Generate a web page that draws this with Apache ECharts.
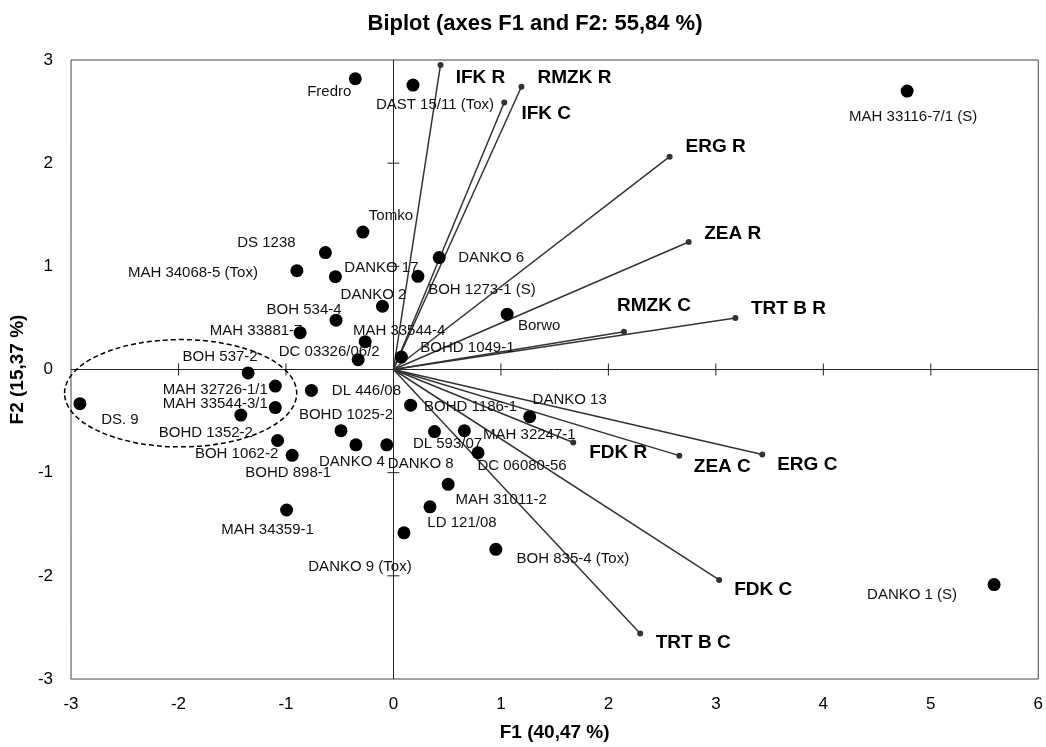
<!DOCTYPE html>
<html>
<head>
<meta charset="utf-8">
<title>Biplot</title>
<script src="https://cdn.jsdelivr.net/npm/echarts@6/dist/echarts.min.js"></script>
<style>
  html, body { margin: 0; padding: 0; background: #fff; }
  #chart { width: 1046px; height: 747px; }
</style>
</head>
<body>
<div id="chart"></div>
<script>
// observations (F1, F2)
const pointNames = [
  'Fredro', 'DAST 15/11 (Tox)', 'MAH 33116-7/1 (S)', 'Tomko', 'DS 1238',
  'MAH 34068-5 (Tox)', 'DANKO 17', 'DANKO 6', 'BOH 1273-1 (S)', 'DANKO 2',
  'BOH 534-4', 'MAH 33881-7', 'MAH 33544-4', 'DC 03326/06/2', 'BOHD 1049-1',
  'Borwo', 'BOH 537-2', 'DS. 9', 'MAH 32726-1/1', 'MAH 33544-3/1',
  'BOHD 1352-2', 'BOH 1062-2', 'BOHD 898-1', 'DL 446/08', 'BOHD 1025-2',
  'DANKO 4', 'DANKO 8', 'MAH 34359-1', 'DANKO 9 (Tox)', 'BOHD 1186-1',
  'DANKO 13', 'DL 593/07', 'MAH 32247-1', 'DC 06080-56', 'MAH 31011-2',
  'LD 121/08', 'BOH 835-4 (Tox)', 'DANKO 1 (S)'
];
const pointF1 = [
  -0.355, 0.182, 4.780, -0.284, -0.633,
  -0.898, -0.540, 0.426, 0.228, -0.102,
  -0.534, -0.868, -0.263, -0.328, 0.074,
  1.058, -1.352, -2.917, -1.099, -1.099,
  -1.420, -1.078, -0.942, -0.763, -0.488,
  -0.349, -0.062, -0.994, 0.098, 0.160,
  1.268, 0.382, 0.660, 0.787, 0.509,
  0.340, 0.953, 5.589
];
const pointF2 = [
  2.818, 2.757, 2.699, 1.332, 1.133,
  0.958, 0.900, 1.085, 0.903, 0.613,
  0.478, 0.357, 0.270, 0.095, 0.120,
  0.536, -0.033, -0.331, -0.161, -0.369,
  -0.442, -0.688, -0.832, -0.203, -0.593,
  -0.730, -0.730, -1.362, -1.583, -0.346,
  -0.458, -0.602, -0.593, -0.807, -1.113,
  -1.331, -1.743, -2.085
];

// variables (loadings)
const varNames = ['IFK R', 'RMZK R', 'IFK C', 'ERG R', 'ZEA R', 'RMZK C',
  'TRT B R', 'FDK R', 'ZEA C', 'ERG C', 'FDK C', 'TRT B C'];
const varF1 = [0.438, 1.191, 1.031, 2.570, 2.747, 2.145, 3.182, 1.673, 2.660, 3.432, 3.031, 2.296];
const varF2 = [2.952, 2.741, 2.588, 2.063, 1.236, 0.366, 0.500, -0.708, -0.835, -0.823, -2.040, -2.558];

// ticks
const xTicks = [-3, -2, -1, 0, 1, 2, 3, 4, 5, 6];
const yTicks = [-3, -2, -1, 0, 1, 2, 3];

// dashed ellipse (center, radii in axis units)
const ellipseCenter = [-1.98, -0.23];
const ellipseRadii = [1.08, 0.52];

// label offsets in px (style only)
const pointLabelOffset = [
  [-26, 13], [22, 20], [6, 26], [28, -16], [-59, -10],
  [-104, 2], [46, -9], [52, 0], [64, 14], [-9, -11],
  [-32, -10], [-44, -2], [34, -11], [-29, -8], [66, -9],
  [32, 12], [-28, -16], [40, 16], [-60, 4], [-60, -4],
  [-35, 18], [-41, 13], [-4, 18], [55, 0], [5, -16],
  [-4, 17], [34, 19], [-19, 20], [-44, 34], [60, 2],
  [40, -17], [13, 12], [65, 4], [44, 13], [53, 16],
  [32, 16], [77, 10], [-82, 10]
];
const varLabelOffset = [
  [40, 13], [53, -9], [42, 11], [46, -10], [44, -8], [30, -26],
  [53, -9], [45, 10], [43, 11], [45, 10], [44, 10], [53, 9]
];

const FONT = '"Liberation Sans", Arial, Helvetica, sans-serif';
const chart = echarts.init(document.getElementById('chart'));

const pointData = pointNames.map((n, i) => ({
  name: n,
  value: [pointF1[i], pointF2[i]],
  label: { offset: pointLabelOffset[i] }
}));
const varEndData = varNames.map((n, i) => ({
  name: n,
  value: [varF1[i], varF2[i]],
  label: { offset: varLabelOffset[i] }
}));
const varLineData = varNames.map((n, i) => ({
  coords: [[0, 0], [varF1[i], varF2[i]]]
}));

const innerXTicks = xTicks.filter((v) => v !== 0 && v !== xTicks[0] && v !== xTicks[xTicks.length - 1]);
const innerYTicks = yTicks.filter((v) => v !== 0 && v !== yTicks[0] && v !== yTicks[yTicks.length - 1]);

chart.setOption({
  animation: false,
  backgroundColor: '#fff',
  title: {
    text: 'Biplot (axes F1 and F2: 55,84 %)',
    left: 530,
    textAlign: 'center',
    top: 8,
    textStyle: { fontFamily: FONT, fontSize: 22, fontWeight: 'bold', color: '#000' }
  },
  grid: {
    left: 69, right: 5, top: 60, bottom: 61,
    show: true, borderColor: '#444', borderWidth: 1, backgroundColor: 'transparent'
  },
  xAxis: {
    type: 'value',
    min: xTicks[0], max: xTicks[xTicks.length - 1], interval: 1,
    name: 'F1 (40,47 %)',
    nameLocation: 'middle',
    nameGap: 44,
    nameTextStyle: { fontFamily: FONT, fontSize: 19, fontWeight: 'bold', color: '#000' },
    axisLine: { show: false, onZero: false },
    axisTick: { show: false },
    splitLine: { show: false },
    axisLabel: { fontFamily: FONT, fontSize: 17, color: '#000', margin: 17 }
  },
  yAxis: {
    type: 'value',
    min: yTicks[0], max: yTicks[yTicks.length - 1], interval: 1,
    name: 'F2 (15,37 %)',
    nameLocation: 'middle',
    nameGap: 37,
    nameTextStyle: { fontFamily: FONT, fontSize: 19, fontWeight: 'bold', color: '#000' },
    axisLine: { show: false, onZero: false },
    axisTick: { show: false },
    splitLine: { show: false },
    axisLabel: { fontFamily: FONT, fontSize: 17, color: '#000', margin: 18 }
  },
  series: [
    {
      // zero axes through the origin
      type: 'lines',
      coordinateSystem: 'cartesian2d',
      silent: true,
      z: 1,
      lineStyle: { color: '#222', width: 1, opacity: 1 },
      data: [
        { coords: [[xTicks[0], 0], [xTicks[xTicks.length - 1], 0]] },
        { coords: [[0, yTicks[0]], [0, yTicks[yTicks.length - 1]]] }
      ]
    },
    {
      type: 'custom',
      silent: true,
      z: 1,
      data: innerXTicks.map((v) => [v, 0]),
      renderItem: (params, api) => {
        const p = api.coord([api.value(0), 0]);
        return {
          type: 'line',
          shape: { x1: p[0], y1: p[1] - 6, x2: p[0], y2: p[1] + 6 },
          style: { stroke: '#222', lineWidth: 1 }
        };
      }
    },
    {
      type: 'custom',
      silent: true,
      z: 1,
      data: innerYTicks.map((v) => [0, v]),
      renderItem: (params, api) => {
        const p = api.coord([0, api.value(1)]);
        return {
          type: 'line',
          shape: { x1: p[0] - 6, y1: p[1], x2: p[0] + 6, y2: p[1] },
          style: { stroke: '#222', lineWidth: 1 }
        };
      }
    },
    {
      // variable vectors
      type: 'lines',
      coordinateSystem: 'cartesian2d',
      silent: true,
      z: 2,
      lineStyle: { color: '#333', width: 1.5, opacity: 1 },
      data: varLineData
    },
    {
      type: 'scatter',
      silent: true,
      z: 3,
      symbol: 'circle',
      symbolSize: 6,
      itemStyle: { color: '#333', opacity: 1 },
      label: {
        show: true,
        position: 'inside',
        formatter: '{b}',
        fontFamily: FONT,
        fontSize: 19,
        fontWeight: 'bold',
        color: '#000',
        opacity: 1
      },
      data: varEndData
    },
    {
      // observations
      type: 'scatter',
      silent: true,
      z: 4,
      symbol: 'circle',
      symbolSize: 13,
      itemStyle: { color: '#000', opacity: 1 },
      label: {
        show: true,
        position: 'inside',
        formatter: '{b}',
        fontFamily: FONT,
        fontSize: 15,
        color: '#111',
        opacity: 1
      },
      data: pointData
    },
    {
      type: 'custom',
      silent: true,
      z: 5,
      clip: false,
      data: [[ellipseCenter[0], ellipseCenter[1]]],
      renderItem: (params, api) => {
        const c = api.coord([api.value(0), api.value(1)]);
        const s = api.size([ellipseRadii[0], ellipseRadii[1]]);
        return {
          type: 'ellipse',
          shape: { cx: c[0], cy: c[1], rx: s[0], ry: s[1] },
          style: { fill: 'none', stroke: '#000', lineWidth: 1.5, lineDash: [5, 3] }
        };
      }
    }
  ]
});
</script>
</body>
</html>
